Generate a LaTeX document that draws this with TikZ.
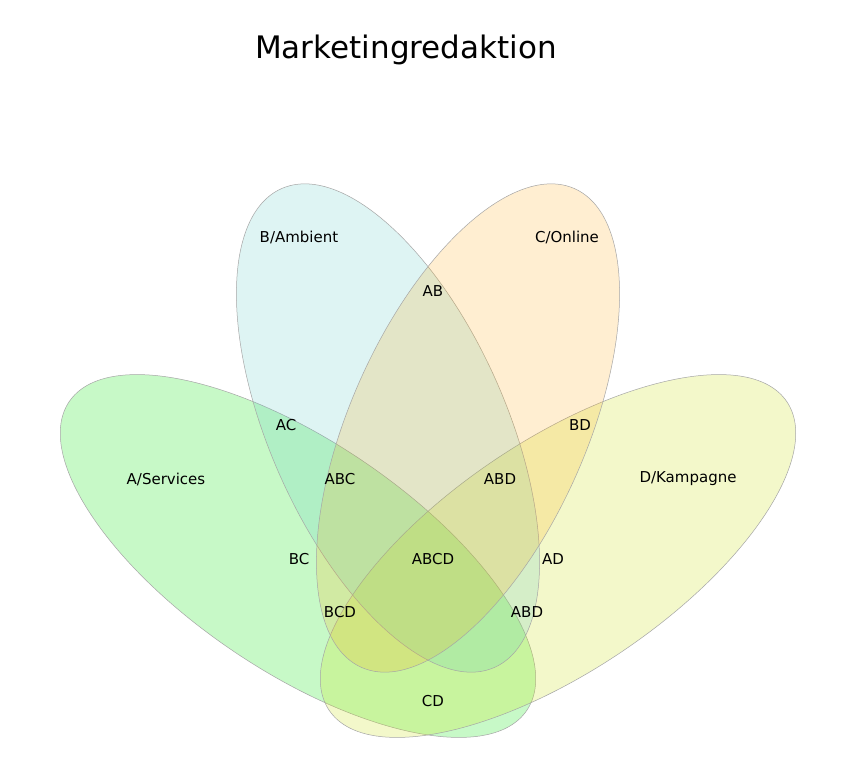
\documentclass[tikz,border=0pt]{standalone}
\usepackage{fontspec}
\setmainfont{DejaVu Sans}
\begin{document}
\begin{tikzpicture}[x=1pt,y=-1pt,
  petal/.style={draw=black!35,line width=0.5pt,fill opacity=0.22},
  lbl/.style={font=\fontsize{15}{18}\selectfont}]
\useasboundingbox (0,0) rectangle (856,768);
\fill[white] (0,0) rectangle (856,768);
\node[font=\fontsize{31}{36}\selectfont] (title) at (406,50) {Marketingredaktion};
% A
\path[petal,fill=green!90!black] [shift={(298,556)},rotate=-34] (0,0) ellipse (276 and 115);
% D
\path[petal,fill=yellow!80!green] [shift={(558,556)},rotate=34] (0,0) ellipse (276 and 115);
% B
\path[petal,fill=cyan!60!green!70,fill opacity=0.18] [shift={(388,428)},rotate=-66] (0,0) ellipse (262 and 118);
% C
\path[petal,fill=orange!70!yellow,fill opacity=0.18] [shift={(468,428)},rotate=66] (0,0) ellipse (262 and 118);
\node[lbl] (b) at (299,237) {B/Ambient};
\node[lbl] (c) at (567,237) {C/Online};
\node[lbl] (ab) at (433,291) {AB};
\node[lbl] (ac) at (286,425) {AC};
\node[lbl] (bd) at (580,425) {BD};
\node[lbl] (a) at (166,479) {A/Services};
\node[lbl] (abc) at (340,479) {ABC};
\node[lbl] (abd) at (500,479) {ABD};
\node[lbl] (d) at (688,479) {D/Kampagne};
\node[lbl] (bc) at (299,559) {BC};
\node[lbl] (abcd) at (433,559) {ABCD};
\node[lbl] (ad) at (553,559) {AD};
\node[lbl] (bcd) at (340,612) {BCD};
\node[lbl] (abd2) at (527,612) {ABD};
\node[lbl] (cd) at (433,701) {CD};
\end{tikzpicture}
\end{document}
